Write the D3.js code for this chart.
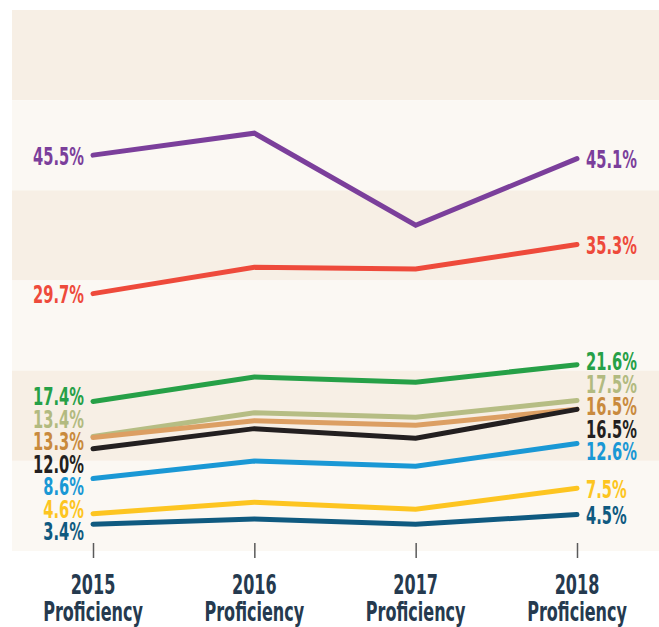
<!DOCTYPE html>
<html>
<head>
<meta charset="utf-8">
<script src="https://cdn.jsdelivr.net/npm/d3@7"></script>
<style>
  body { margin: 0; background: #fff; }
  text { font-family: "Liberation Sans Narrow", "DejaVu Sans Condensed", sans-serif; font-weight: bold; }
</style>
</head>
<body>
<svg id="chart" width="659" height="627"></svg>
<script>
// years on the x axis
const years = ["2015", "2016", "2017", "2018"];

// proficiency (%) per group, one array per line
const purpleVals = [45.5, 48.0, 37.5, 45.1];
const redVals    = [29.7, 32.7, 32.5, 35.3];
const greenVals  = [17.4, 20.2, 19.6, 21.6];
const sageVals   = [13.4, 16.1, 15.6, 17.5];
const orangeVals = [13.3, 15.2, 14.7, 16.5];
const blackVals  = [12.0, 14.3, 13.2, 16.5];
const blueVals   = [8.6, 10.6, 10.0, 12.6];
const yellowVals = [4.6, 5.9, 5.1, 7.5];
const navyVals   = [3.4, 4.0, 3.4, 4.5];

const series = [
  {vals: purpleVals, color: "#7b3f9b", label: "#7b3f9b"},
  {vals: redVals,    color: "#ee4a3b", label: "#ee4a3b"},
  {vals: greenVals,  color: "#26a047", label: "#26a047"},
  {vals: sageVals,   color: "#b6bd84", label: "#b2ba80"},
  {vals: orangeVals, color: "#dc9f63", label: "#c98a3d"},
  {vals: blackVals,  color: "#231f20", label: "#231f20"},
  {vals: blueVals,   color: "#1a98d5", label: "#1a98d5"},
  {vals: yellowVals, color: "#fdc521", label: "#fdc521"},
  {vals: navyVals,   color: "#0f5a80", label: "#0f5a80"}
];

const svg = d3.select("#chart");
const plot = {top: 10, bottom: 551, left: 12, right: 659};

const x = d3.scalePoint().domain(years).range([93, 577]);
const y = d3.scaleLinear().domain([0, 60]).range([554, 28]);

// alternating background bands
const nBands = 6, bandH = (plot.bottom - plot.top) / nBands;
svg.selectAll("rect.band")
  .data(d3.range(nBands))
  .enter().append("rect")
    .attr("class", "band")
    .attr("x", plot.left)
    .attr("y", i => plot.top + i * bandH)
    .attr("width", plot.right - plot.left)
    .attr("height", bandH)
    .attr("fill", i => i % 2 === 0 ? "#f7efe5" : "#fbf8f3");

// axis ticks
const axis = svg.append("g")
  .attr("transform", "translate(0,543)")
  .call(d3.axisBottom(x).tickSize(15).tickFormat(""));
axis.select(".domain").remove();
axis.selectAll(".tick line").attr("stroke", "#5a5a5a").attr("stroke-width", 1.5);

// axis labels (two lines), squeezed to look like a condensed face
const lab = svg.selectAll("g.xlab")
  .data(years)
  .enter().append("g")
    .attr("class", "xlab")
    .attr("transform", d => `translate(${x(d)},0)`);
lab.append("text")
  .attr("transform", "translate(0,594) scale(0.66,1)")
  .attr("text-anchor", "middle")
  .attr("fill", "#253a4f")
  .style("font-size", "27px")
  .text(d => d);
lab.append("text")
  .attr("transform", "translate(0,621) scale(0.66,1)")
  .attr("text-anchor", "middle")
  .attr("fill", "#253a4f")
  .style("font-size", "27px")
  .text("Proficiency");

// lines
const line = d3.line()
  .x((d, i) => x(years[i]))
  .y(d => y(d));

svg.selectAll("path.series")
  .data(series)
  .enter().append("path")
    .attr("class", "series")
    .attr("d", d => line(d.vals))
    .attr("fill", "none")
    .attr("stroke", d => d.color)
    .attr("stroke-width", 5)
    .attr("stroke-linecap", "round")
    .attr("stroke-linejoin", "miter");

// end labels, pushed apart so they don't collide
function spread(items, gap) {
  items.sort((a, b) => a.y - b.y);
  for (let k = 0; k < 300; k++) {
    for (let i = 1; i < items.length; i++) {
      const d = items[i].y - items[i - 1].y;
      if (d < gap) {
        const s = (gap - d) / 2;
        items[i - 1].y -= s;
        items[i].y += s;
      }
    }
  }
  return items;
}

const fmt = v => v.toFixed(1) + "%";
const first = spread(series.map(s => ({v: s.vals[0], y: y(s.vals[0]), c: s.label})), 22.5);
const last = spread(series.map(s => ({v: s.vals[3], y: y(s.vals[3]), c: s.label})), 22.5);

svg.selectAll("text.lbl-left")
  .data(first)
  .enter().append("text")
    .attr("class", "lbl-left")
    .attr("transform", d => `translate(${x(years[0]) - 9},${d.y + 1}) scale(0.68,1)`)
    .attr("dy", "0.36em")
    .attr("text-anchor", "end")
    .attr("fill", d => d.c)
    .style("font-size", "24px")
    .text(d => fmt(d.v));

svg.selectAll("text.lbl-right")
  .data(last)
  .enter().append("text")
    .attr("class", "lbl-right")
    .attr("transform", d => `translate(${x(years[3]) + 9},${d.y + 1}) scale(0.68,1)`)
    .attr("dy", "0.36em")
    .attr("text-anchor", "start")
    .attr("fill", d => d.c)
    .style("font-size", "24px")
    .text(d => fmt(d.v));
</script>
</body>
</html>
